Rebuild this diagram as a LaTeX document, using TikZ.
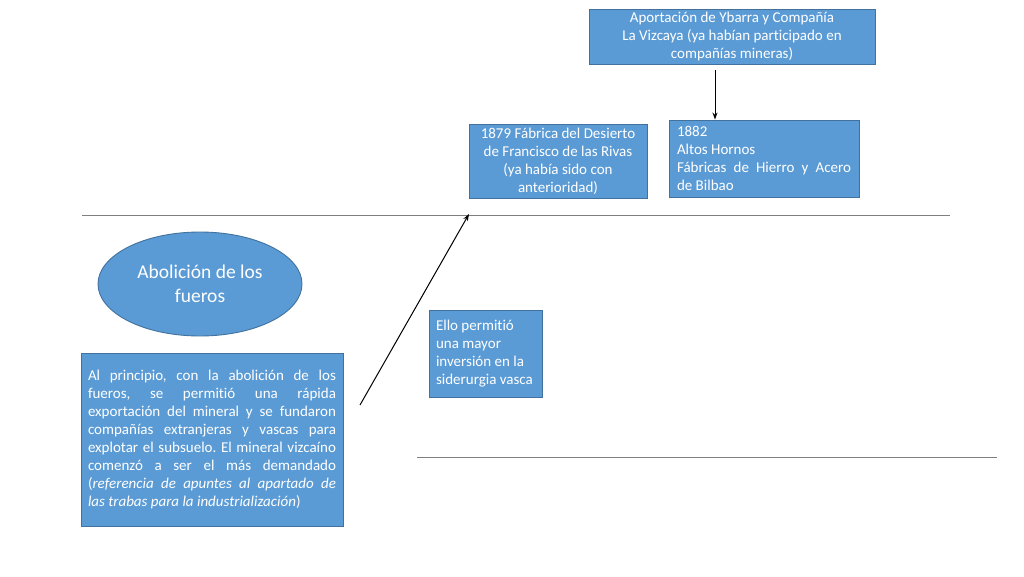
\documentclass[tikz,border=0pt]{standalone}
\usepackage{fontspec}
\setmainfont{Carlito}[Ligatures=CommonOff]
\usetikzlibrary{shapes.geometric,arrows.meta}
\definecolor{boxfill}{HTML}{5B9BD5}
\definecolor{boxline}{HTML}{41719C}
\definecolor{rule}{HTML}{7F7F7F}
\hyphenpenalty=10000
\exhyphenpenalty=10000
\emergencystretch=20pt
\frenchspacing
\tikzset{
  bluebox/.style={draw=boxline, line width=0.9pt, fill=boxfill, text=white, rectangle,
    inner sep=0pt, font=\fontsize{15}{18}\selectfont},
  blueell/.style={draw=boxline, line width=0.9pt, fill=boxfill, text=white, ellipse,
    inner sep=0pt, font=\fontsize{19.5}{24}\selectfont, align=center},
  timeline/.style={draw=rule, line width=0.9pt},
  conn/.style={draw=black, line width=1pt, -{Stealth[length=7pt,width=5pt]}},
}
\begin{document}
\begin{tikzpicture}[x=1pt,y=-1pt]
\useasboundingbox (0,0) rectangle (1024,576);
\node[bluebox, minimum width=286, minimum height=55, align=center] (top) at (732,36.5)
  {Aportación de Ybarra y Compañía\\La Vizcaya (ya habían participado en\\compañías mineras)};
\node[bluebox, minimum width=178, minimum height=74, align=center] (f1879) at (558,161)
  {1879 Fábrica del Desierto\\de Francisco de las Rivas\\(ya había sido con\\anterioridad)};
\node[bluebox, minimum width=190, minimum height=77, text width=174, align=justify] (f1882) at (764,158.5)
  {1882\\Altos Hornos\\Fábricas de Hierro y Acero\linebreak de Bilbao};
\node[bluebox, minimum width=113, minimum height=87, text width=99, align=flush left] (ello) at (485.5,353.5)
  {Ello permitió\\una mayor\\inversión en la\\siderurgia vasca};
\node[bluebox, minimum width=262, minimum height=173, text width=248, align=justify] (prin) at (212,439.5)
  {Al principio, con la abolición de los\linebreak fueros, se permitió una rápida\linebreak exportación del mineral y se fundaron compañías extranjeras y vascas para explotar el subsuelo. El mineral vizcaíno comenzó a ser el más demandado (\textit{referencia de apuntes al apartado de\linebreak las trabas para la industrialización})};
\node[blueell, minimum width=204, minimum height=104] (abol) at (200,284)
  {Abolición de los\\fueros};
\coordinate (l1a) at (82,215);
\coordinate (l1b) at (950,215);
\coordinate (l2a) at (417,457);
\coordinate (l2b) at (997,457);
\draw[timeline] (l1a) -- (l1b);
\draw[timeline] (l2a) -- (l2b);
\coordinate (arrS) at (360,405);
\coordinate (arrE) at (469,214);
\draw[conn] (arrS) -- (arrE);
\draw[conn, shorten <=6pt] (top.south -| 715,0) -- (f1882.north -| 715,0);
\end{tikzpicture}
\end{document}
